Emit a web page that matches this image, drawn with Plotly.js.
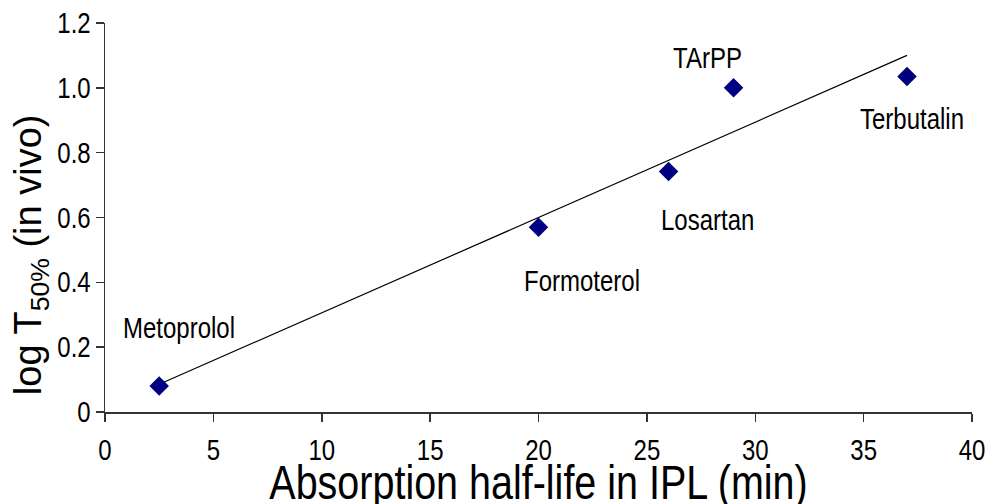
<!DOCTYPE html>
<html>
<head>
<meta charset="utf-8">
<script src="https://cdn.plot.ly/plotly-3.0.1.min.js"></script>
<style>
  html, body { margin: 0; padding: 0; background: #fff; }
  #chart { width: 991px; height: 504px; }
</style>
</head>
<body>
<div id="chart"></div>
<script>
// Drug names, absorption half-life in IPL (min) and log T50% in vivo
const drugs = ['Metoprolol', 'Formoterol', 'Losartan', 'TArPP', 'Terbutalin'];
const halfLife = [2.5, 20, 26, 29, 37];
const logT50 = [0.08, 0.57, 0.742, 1.0, 1.035];

// Axis ticks
const xTickVals = [0, 5, 10, 15, 20, 25, 30, 35, 40];
const yTickVals = [0, 0.2, 0.4, 0.6, 0.8, 1.0, 1.2];
const yTickText = ['0', '0.2', '0.4', '0.6', '0.8', '1.0', '1.2'];

// Label placement around each marker, in pixels
const labelShift = {
  Metoprolol: [20, 59],
  Formoterol: [43, -53],
  Losartan: [39, -48],
  TArPP: [-26, 30],
  Terbutalin: [5, -42]
};

// Least-squares linear fit
function linearFit(xs, ys) {
  const n = xs.length;
  const mx = xs.reduce((a, b) => a + b, 0) / n;
  const my = ys.reduce((a, b) => a + b, 0) / n;
  let sxy = 0, sxx = 0;
  for (let i = 0; i < n; i++) {
    sxy += (xs[i] - mx) * (ys[i] - my);
    sxx += (xs[i] - mx) * (xs[i] - mx);
  }
  const slope = sxy / sxx;
  return { slope: slope, intercept: my - slope * mx };
}

const fit = linearFit(halfLife, logT50);
const xMin = Math.min(...halfLife);
const xMax = Math.max(...halfLife);
const fitX = [xMin, xMax];
const fitY = fitX.map(x => fit.intercept + fit.slope * x);

const FONT = '"Liberation Sans", Arial, sans-serif';
const TALL = 1.2; // vertical stretch giving horizontal labels a condensed look

const traces = [
  {
    x: fitX, y: fitY, type: 'scatter', mode: 'lines',
    line: { color: '#000000', width: 1.2 },
    hoverinfo: 'skip', showlegend: false
  },
  {
    x: halfLife, y: logT50, type: 'scatter', mode: 'markers',
    marker: { symbol: 'diamond', size: 15, color: '#000080' },
    text: drugs, showlegend: false
  }
];

const annotations = drugs.map((d, i) => ({
  x: halfLife[i], y: logT50[i], xref: 'x', yref: 'y',
  text: d, showarrow: false,
  xanchor: 'center', yanchor: 'middle',
  xshift: labelShift[d][0], yshift: labelShift[d][1],
  font: { family: FONT, size: 24, color: '#000000' },
  name: 'point-label'
}));

annotations.push({
  xref: 'paper', yref: 'paper', x: -0.085, y: 0.404,
  xanchor: 'center', yanchor: 'middle',
  text: 'log T<sub>50%</sub> (in vivo)', textangle: -90, showarrow: false,
  font: { family: FONT, size: 38, color: '#000000' },
  name: 'y-title'
});

const layout = {
  width: 991, height: 504,
  margin: { l: 105, r: 19, t: 23, b: 92 },
  paper_bgcolor: '#ffffff', plot_bgcolor: '#ffffff',
  font: { family: FONT, color: '#000000' },
  xaxis: {
    range: [0, 40], tickvals: xTickVals,
    ticks: 'outside', ticklen: 8, tickwidth: 1.5, tickcolor: '#333333',
    ticklabelstandoff: 8,
    showline: true, linecolor: '#333333', linewidth: 1.5,
    showgrid: false, zeroline: false,
    tickfont: { family: FONT, size: 24, color: '#000000' },
    title: { text: 'Absorption half-life in IPL (min)', font: { family: FONT, size: 39.5, color: '#000000' }, standoff: 1 }
  },
  yaxis: {
    range: [0, 1.2], tickvals: yTickVals, ticktext: yTickText,
    ticks: 'outside', ticklen: 8, tickwidth: 1.5, tickcolor: '#333333',
    showline: true, linecolor: '#333333', linewidth: 1.5,
    showgrid: false, zeroline: false,
    tickfont: { family: FONT, size: 24, color: '#000000' }
  },
  annotations: annotations,
  showlegend: false
};

// Stretch a text element vertically about its own centre
function stretchText(el, k) {
  const b = el.getBBox();
  const cy = b.y + b.height / 2;
  const prev = el.getAttribute('transform') || '';
  el.setAttribute('transform', prev + ' translate(0 ' + cy + ') scale(1 ' + k + ') translate(0 ' + (-cy) + ')');
}

Plotly.newPlot('chart', traces, layout, { displayModeBar: false, staticPlot: true }).then(gd => {
  const sel = [
    '.xaxislayer-above .xtick text',
    '.yaxislayer-above .ytick text',
    '.g-xtitle text'
  ];
  sel.forEach(s => gd.querySelectorAll(s).forEach(el => stretchText(el, TALL)));
  // point labels only; the rotated y title keeps its natural shape
  const annGroups = gd.querySelectorAll('.annotation');
  annGroups.forEach((g, i) => {
    if (i < drugs.length) {
      g.querySelectorAll('text').forEach(el => stretchText(el, TALL));
    }
  });
});
</script>
</body>
</html>
